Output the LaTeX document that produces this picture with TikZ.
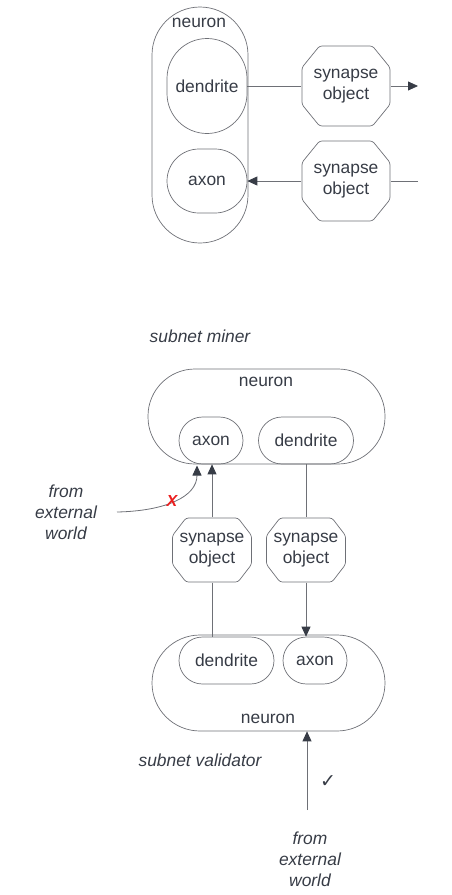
\documentclass[tikz,border=0pt]{standalone}
\usepackage{fontspec}
\setmainfont{Liberation Sans}
\newfontfamily\symfont{DejaVu Sans}
\usetikzlibrary{arrows.meta}
\definecolor{txt}{RGB}{55,60,70}
\definecolor{ln}{RGB}{110,112,118}
\definecolor{tip}{RGB}{55,60,70}
\definecolor{xred}{RGB}{235,30,30}
\begin{document}
\begin{tikzpicture}[x=1pt,y=-1pt,
  every node/.style={text=txt,font=\fontsize{17.4}{21}\selectfont},
  shp/.style={draw=ln,line width=0.7pt,rectangle,inner sep=0pt,align=center},
  stad/.style 2 args={shp,minimum width=#1pt,minimum height=#2pt},
  octo/.style n args={4}{rectangle,inner sep=0pt,align=center,minimum width=#1pt,minimum height=#2pt,
    path picture={
      \draw[draw=ln,line width=0.7pt,rounded corners=2.5pt]
      ([xshift=#3pt,yshift=-0.5pt]path picture bounding box.north west) -- ([xshift=-#3pt,yshift=-0.5pt]path picture bounding box.north east)
      -- ([xshift=-0.5pt,yshift=-#4pt]path picture bounding box.north east) -- ([xshift=-0.5pt,yshift=#4pt]path picture bounding box.south east)
      -- ([xshift=-#3pt,yshift=0.5pt]path picture bounding box.south east) -- ([xshift=#3pt,yshift=0.5pt]path picture bounding box.south west)
      -- ([xshift=0.5pt,yshift=#4pt]path picture bounding box.south west) -- ([xshift=0.5pt,yshift=-#4pt]path picture bounding box.north west) -- cycle;}},
  conn/.style={draw=ln,line width=0.8pt},
  arr/.style={conn,-{Triangle[length=10pt,width=9pt,fill=tip,color=tip]}},
  ital/.style={font=\fontsize{17.4}{21}\selectfont\itshape,align=center}
]
\useasboundingbox (0,0) rectangle (451,895);

% ---------- top part ----------
\node[stad={96}{236},rounded corners=48pt] (tneuron) at (200,125) {};
\node[anchor=center] (tnlabel) at (199,23) {neuron};
\node[stad={80}{95},rounded corners=40pt] (tdend) at (207,86) {dendrite};
\node[stad={80}{64},rounded corners=32pt] (taxon) at (207,181) {axon};
\node[octo={89}{81}{18}{22}] (ts1) at (346,86) {synapse\\object};
\node[octo={89}{81}{18}{22}] (ts2) at (346,181) {synapse\\object};
\coordinate (tout) at (418,86);
\coordinate (tin) at (418,181);
\draw[conn] (tdend.east) -- (ts1.west);
\draw[arr] (ts1.east) -- (tout);
\draw[conn] (tin) -- (ts2.east);
\draw[arr] (ts2.west) -- (taxon.east);

% ---------- miner ----------
\node[ital] (minerlbl) at (200,336) {subnet miner};
\node[stad={237}{95},rounded corners=47pt] (mneuron) at (266.5,416.5) {};
\node (mnlabel) at (266,382) {neuron};
\node[stad={64}{47},rounded corners=23.5pt] (maxon) at (211,440.5) {axon};
\node[stad={95}{47},rounded corners=23.5pt] (mdend) at (306,440.5) {dendrite};
\node[octo={80}{65}{14}{18}] (ms1) at (212,550) {synapse\\object};
\node[octo={80}{65}{14}{18}] (ms2) at (306,550) {synapse\\object};

% ---------- validator ----------
\node[stad={233}{96},rounded corners=48pt] (vneuron) at (268.5,683) {};
\node (vnlabel) at (268,719) {neuron};
\node[stad={95}{47},rounded corners=23.5pt] (vdend) at (226.5,660.5) {dendrite};
\node[stad={64}{47},rounded corners=23.5pt] (vaxon) at (315,660.5) {axon};
\node[ital] (vallbl) at (200,760) {subnet validator};

% ---------- connectors ----------
\draw[arr] (ms1.north) -- (ms1.north |- maxon.south);
\draw[conn] (mdend.south) -- (ms2.north);
\draw[conn] (ms1.south) -- (ms1.south |- vdend.north);
\draw[arr] (ms2.south) -- (ms2.south |- vaxon.north);

% external world (left, blocked)
\node[ital] (extL) at (66,512) {from\\external\\world};
\coordinate (extLs) at (117,512);
\coordinate (extLe) at (197,465.5);
\draw[arr] (extLs) .. controls (165,511) and (197,497) .. (extLe);
\node[text=xred,font=\fontsize{16}{16}\selectfont\bfseries\itshape] (xmark) at (172,501) {X};

% external world (bottom, allowed)
\node[ital] (extB) at (310,859) {from\\external\\world};
\coordinate (extBs) at (307,810);
\draw[arr] (extBs) -- (extBs |- vneuron.south);
\node[font=\fontsize{19}{19}\selectfont\symfont] (check) at (328,782) {✓};
\end{tikzpicture}
\end{document}
